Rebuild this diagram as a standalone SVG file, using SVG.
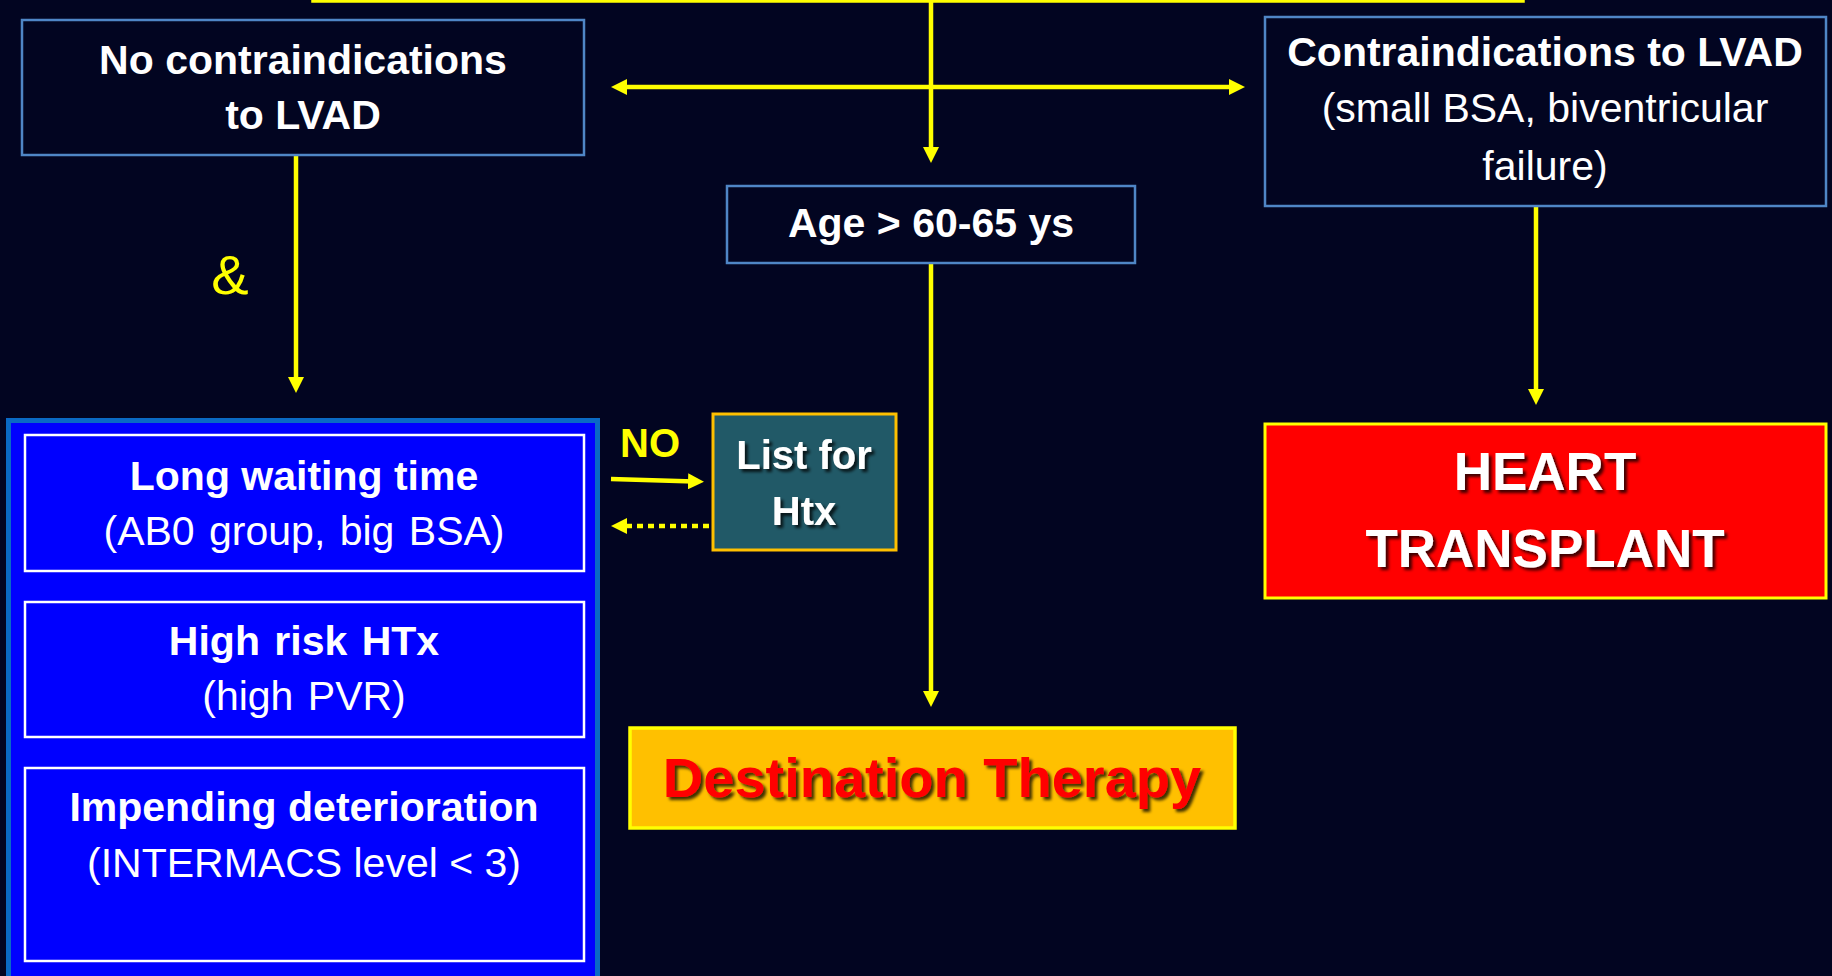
<svg xmlns="http://www.w3.org/2000/svg" width="1832" height="976" viewBox="0 0 1832 976">
  <style>
    .bg { fill: #020521; }
    .dark { fill: #020521; stroke: #4F86C6; stroke-width: 2.5; }
    .inner { fill: #0000FF; stroke: #FFFFFF; stroke-width: 2.5; }
    .t { font-family: "Liberation Sans", Arial, sans-serif; fill: #FFFFFF; text-anchor: middle; font-size: 41px; }
    .b { font-weight: bold; }
    .y { fill: #FFFF00; }
    .s40 { font-size: 40px; }
    .s53 { font-size: 53px; }
    .s56 { font-size: 56px; }
    .red { fill: #FF0000; }
    .con { fill: none; stroke: #FFFF00; stroke-width: 4.5; }
  </style>
  <defs>
    <marker id="ah" markerUnits="userSpaceOnUse" markerWidth="16" markerHeight="16" viewBox="0 0 16 16" refX="6" refY="8" orient="auto-start-reverse">
      <path d="M0,0 L16,8 L0,16 Z" fill="#FFFF00"/>
    </marker>
    <filter id="shadow" x="-10%" y="-20%" width="120%" height="150%">
      <feDropShadow dx="3" dy="3" stdDeviation="1.6" flood-color="#000000" flood-opacity="0.75"/>
    </filter>
  </defs>

  <rect class="bg" x="0" y="0" width="1832" height="976"/>

  <!-- decision box above the frame edge -->
  <g id="top-box">
    <rect x="313" y="-60" width="1210" height="61" fill="#020521" stroke="#FFFF00" stroke-width="3.5"/>
  </g>

  <!-- connectors -->
  <g id="connectors">
    <path class="con" d="M931,2 V153" marker-end="url(#ah)"/>
    <path class="con" d="M621,87 H1235" marker-start="url(#ah)" marker-end="url(#ah)"/>
    <path class="con" d="M296,155 V383" marker-end="url(#ah)"/>
    <path class="con" d="M1536,206 V395" marker-end="url(#ah)"/>
    <path class="con" d="M931,263 V697" marker-end="url(#ah)"/>
    <path class="con" d="M611,479 L694,481.5" marker-end="url(#ah)"/>
    <path class="con" d="M709,526 H621" stroke-dasharray="6 5" marker-end="url(#ah)"/>
    <text class="t b y s40" x="650" y="457">NO</text>
    <text class="t y s56" x="230" y="294">&amp;</text>
  </g>

  <g id="no-contraindications">
    <rect class="dark" x="22" y="20" width="562" height="135"/>
    <text class="t b" x="303" y="74">No contraindications</text>
    <text class="t b" x="303" y="129">to LVAD</text>
  </g>

  <g id="contraindications">
    <rect class="dark" x="1265" y="17" width="561" height="189"/>
    <text class="t b" x="1545" y="66">Contraindications to LVAD</text>
    <text class="t" x="1545" y="122">(small BSA, biventricular</text>
    <text class="t" x="1545" y="180">failure)</text>
  </g>

  <g id="age">
    <rect class="dark" x="727" y="186" width="408" height="77"/>
    <text class="t b" x="931" y="237">Age &gt; 60-65 ys</text>
  </g>

  <g id="criteria-panel">
    <rect x="8.5" y="420.5" width="589" height="600" fill="#0000FF" stroke="#0A6AC4" stroke-width="5"/>
  </g>

  <g id="long-waiting">
    <rect class="inner" x="25" y="435" width="559" height="136"/>
    <text class="t b" x="304" y="490">Long waiting time</text>
    <text class="t" x="304" y="545" word-spacing="3">(AB0 group, big BSA)</text>
  </g>

  <g id="high-risk">
    <rect class="inner" x="25" y="602" width="559" height="135"/>
    <text class="t b" x="304" y="655" word-spacing="3">High risk HTx</text>
    <text class="t" x="304" y="710" word-spacing="3">(high PVR)</text>
  </g>

  <g id="impending">
    <rect class="inner" x="25" y="768" width="559" height="193"/>
    <text class="t b" x="304" y="821">Impending deterioration</text>
    <text class="t" x="304" y="877">(INTERMACS level &lt; 3)</text>
  </g>

  <g id="list-htx">
    <rect x="713" y="414" width="183" height="136" fill="#215967" stroke="#FFC000" stroke-width="3"/>
    <text class="t b s40" x="804" y="469" filter="url(#shadow)">List for</text>
    <text class="t b s40" x="804" y="525" filter="url(#shadow)">Htx</text>
  </g>

  <g id="heart-transplant">
    <rect x="1265" y="424" width="561" height="174" fill="#FF0000" stroke="#FFFF00" stroke-width="3"/>
    <text class="t b s53" x="1545" y="490" filter="url(#shadow)">HEART</text>
    <text class="t b s53" x="1545" y="567" filter="url(#shadow)">TRANSPLANT</text>
  </g>

  <g id="destination-therapy">
    <rect x="630" y="728" width="605" height="100" fill="#FFC000" stroke="#FFFF00" stroke-width="3.5"/>
    <text class="t b s56 red" x="932" y="797" filter="url(#shadow)">Destination Therapy</text>
  </g>
</svg>
